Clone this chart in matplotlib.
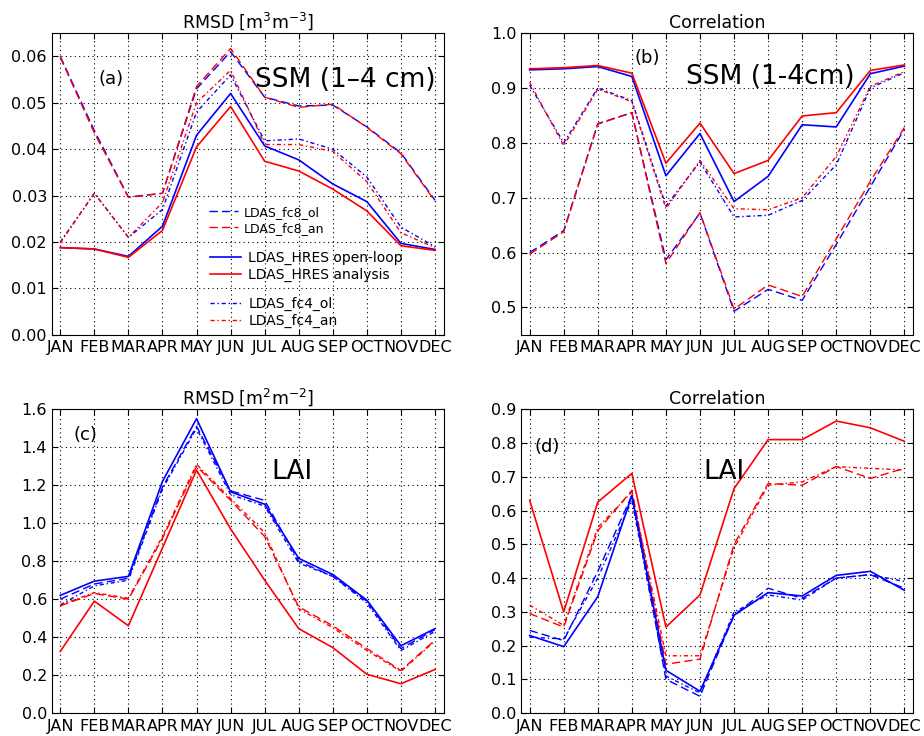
import numpy as np
import matplotlib.pyplot as plt
from matplotlib.lines import Line2D

months = ["JAN", "FEB", "MAR", "APR", "MAY", "JUN", "JUL", "AUG", "SEP", "OCT", "NOV", "DEC"]

# (a) SSM RMSD
a_hres_ol = [.0188, .0185, .0169, .0234, .0430, .0520, .0407, .0377, .0325, .0287, .0197, .0184]
a_hres_an = [.0188, .0185, .0167, .0225, .0405, .0492, .0374, .0353, .0314, .0267, .0192, .0182]
a_fc8_ol = [.0600, .0440, .0297, .0305, .0530, .0610, .0512, .0493, .0495, .0448, .0392, .0290]
a_fc8_an = [.0598, .0435, .0296, .0305, .0535, .0617, .0512, .0490, .0497, .0447, .0390, .0288]
a_fc4_ol = [.0200, .0305, .0210, .0270, .0480, .0560, .0418, .0422, .0400, .0340, .0232, .0190]
a_fc4_an = [.0198, .0305, .0210, .0285, .0500, .0570, .0410, .0410, .0395, .0330, .0220, .0188]

# (b) SSM correlation
b_hres_ol = [.933, .935, .939, .921, .740, .817, .693, .739, .833, .829, .926, .940]
b_hres_an = [.935, .937, .941, .927, .763, .836, .744, .768, .849, .855, .932, .942]
b_fc8_ol = [.600, .640, .835, .855, .587, .672, .493, .533, .513, .615, .720, .825]
b_fc8_an = [.597, .638, .834, .855, .580, .673, .497, .541, .520, .625, .730, .828]
b_fc4_ol = [.905, .800, .900, .877, .685, .765, .665, .668, .695, .760, .900, .928]
b_fc4_an = [.910, .795, .898, .875, .680, .768, .680, .678, .700, .775, .903, .930]

# (c) LAI RMSD
c_hres_ol = [.62, .695, .72, 1.22, 1.55, 1.165, 1.10, .815, .73, .595, .355, .445]
c_hres_an = [.325, .59, .46, .87, 1.28, .97, .70, .445, .345, .205, .155, .23]
c_fc8_ol = [.60, .68, .71, 1.19, 1.51, 1.17, 1.12, .80, .72, .59, .34, .44]
c_fc8_an = [.565, .63, .60, .92, 1.30, 1.12, .93, .56, .46, .34, .225, .385]
c_fc4_ol = [.57, .67, .70, 1.18, 1.50, 1.15, 1.09, .79, .72, .58, .33, .43]
c_fc4_an = [.57, .635, .605, .93, 1.31, 1.13, .95, .55, .45, .33, .22, .38]

# (d) LAI correlation
d_hres_ol = [.23, .197, .345, .645, .127, .065, .29, .357, .347, .408, .42, .364]
d_hres_an = [.63, .30, .625, .71, .255, .35, .665, .81, .81, .865, .845, .805]
d_fc8_ol = [.245, .215, .42, .645, .10, .05, .29, .37, .34, .40, .41, .37]
d_fc8_an = [.295, .255, .54, .66, .145, .16, .50, .68, .675, .73, .695, .725]
d_fc4_ol = [.225, .22, .40, .63, .11, .06, .30, .35, .335, .40, .41, .39]
d_fc4_an = [.32, .26, .55, .655, .17, .17, .49, .675, .685, .73, .725, .72]

x = np.arange(12)
fig = plt.figure(figsize=(9.24, 7.36), dpi=100)

def panel(rect, series, ylim, yticks, fmt, title, tag, tagxy, label, labelxy, labelsize):
    ax = fig.add_axes(rect)
    hol, han, f8o, f8a, f4o, f4a = series
    ax.plot(x, f8o, color="blue", ls=(0, (6, 3)), lw=1)
    ax.plot(x, f8a, color="red", ls=(0, (6, 3)), lw=1)
    ax.plot(x, f4o, color="blue", ls=(0, (3, 2, 1, 2)), lw=1)
    ax.plot(x, f4a, color="red", ls=(0, (3, 2, 1, 2)), lw=1)
    ax.plot(x, hol, color="blue", lw=1.2)
    ax.plot(x, han, color="red", lw=1.2)
    ax.set_xlim(-0.25, 11.25)
    ax.set_ylim(*ylim)
    ax.set_yticks(yticks)
    ax.set_yticklabels([fmt % v for v in yticks])
    ax.set_xticks(x)
    ax.set_xticklabels(months)
    ax.tick_params(direction="in", labelsize=11.5, length=4, top=True, right=True)
    ax.tick_params(axis="x", pad=4)
    ax.grid(True, ls=(0, (1, 3)), color="black", lw=0.8)
    ax.set_title(title, fontsize=12.5, pad=4)
    ax.text(tagxy[0], tagxy[1], tag, transform=ax.transAxes, fontsize=13)
    ax.text(labelxy[0], labelxy[1], label, transform=ax.transAxes, fontsize=labelsize)
    return ax

ax_a = panel([0.056, 0.545, 0.424, 0.41],
             [a_hres_ol, a_hres_an, a_fc8_ol, a_fc8_an, a_fc4_ol, a_fc4_an],
             (0, 0.065), np.arange(0, 0.061, 0.01), "%.2f",
             r"RMSD [m$^3$m$^{-3}$]", "(a)", (0.12, 0.83), "SSM (1–4 cm)", (0.52, 0.82), 19)
panel([0.564, 0.545, 0.424, 0.41],
      [b_hres_ol, b_hres_an, b_fc8_ol, b_fc8_an, b_fc4_ol, b_fc4_an],
      (0.45, 1.0), np.arange(0.5, 1.01, 0.1), "%.1f",
      "Correlation", "(b)", (0.29, 0.9), "SSM (1-4cm)", (0.42, 0.83), 19)
panel([0.056, 0.031, 0.424, 0.413],
      [c_hres_ol, c_hres_an, c_fc8_ol, c_fc8_an, c_fc4_ol, c_fc4_an],
      (0, 1.6), np.arange(0, 1.61, 0.2), "%.1f",
      r"RMSD [m$^2$m$^{-2}$]", "(c)", (0.055, 0.9), "LAI", (0.56, 0.77), 19)
panel([0.564, 0.031, 0.424, 0.413],
      [d_hres_ol, d_hres_an, d_fc8_ol, d_fc8_an, d_fc4_ol, d_fc4_an],
      (0, 0.9), np.arange(0, 0.91, 0.1), "%.1f",
      "Correlation", "(d)", (0.035, 0.86), "LAI", (0.465, 0.77), 19)

# three small legends in panel (a)
kw = dict(frameon=False, handlelength=2.3, handletextpad=0.5, borderpad=0, labelspacing=0.25,
          loc="center left")
leg1 = ax_a.legend([Line2D([], [], color="blue", ls=(0, (6, 3)), lw=1),
                    Line2D([], [], color="red", ls=(0, (6, 3)), lw=1)],
                   ["LDAS_fc8_ol", "LDAS_fc8_an"],
                   bbox_to_anchor=(0.385, 0.38), fontsize=9, **kw)
leg2 = ax_a.legend([Line2D([], [], color="blue", lw=1.2),
                    Line2D([], [], color="red", lw=1.2)],
                   ["LDAS_HRES open-loop", "LDAS_HRES analysis"],
                   bbox_to_anchor=(0.385, 0.227), fontsize=10, **kw)
leg3 = ax_a.legend([Line2D([], [], color="blue", ls=(0, (3, 2, 1, 2)), lw=1),
                    Line2D([], [], color="red", ls=(0, (3, 2, 1, 2)), lw=1)],
                   ["LDAS_fc4_ol", "LDAS_fc4_an"],
                   bbox_to_anchor=(0.385, 0.075), fontsize=10, **kw)
ax_a.add_artist(leg1)
ax_a.add_artist(leg2)

fig.savefig("out.png", dpi=100)
